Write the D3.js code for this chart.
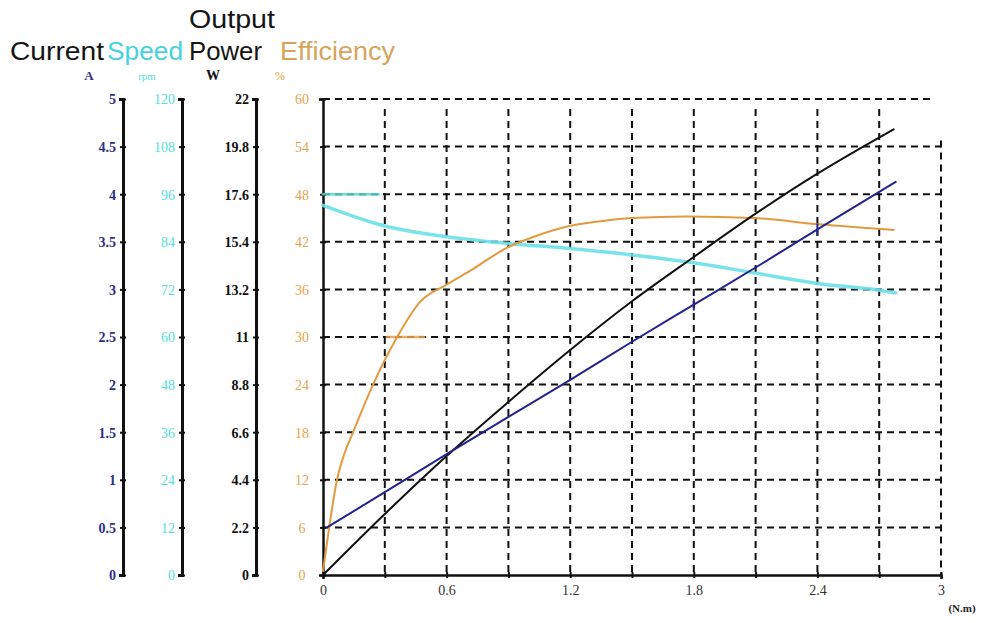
<!DOCTYPE html>
<html>
<head>
<meta charset="utf-8">
<script src="https://cdn.jsdelivr.net/npm/d3@7"></script>
<style>
  body { margin: 0; background: #fff; }
</style>
</head>
<body>
<div class="motor-chart"></div>
<script>
// torque axis (N.m)
const xTicks = [0, 0.3, 0.6, 0.9, 1.2, 1.5, 1.8, 2.1, 2.4, 2.7, 3];
const xLabels = ["0", "", "0.6", "", "1.2", "", "1.8", "", "2.4", "", "3"];

// left axes tick values
const currentTicks = [0, 0.5, 1, 1.5, 2, 2.5, 3, 3.5, 4, 4.5, 5];
const speedTicks = [0, 12, 24, 36, 48, 60, 72, 84, 96, 108, 120];
const powerTicks = [0, 2.2, 4.4, 6.6, 8.8, 11, 13.2, 15.4, 17.6, 19.8, 22];
const effTicks = [0, 6, 12, 18, 24, 30, 36, 42, 48, 54, 60];

// curves
const speedTorque = [0, 0.3, 0.6, 0.9, 1.2, 1.5, 1.8, 2.1, 2.4, 2.7, 2.78];
const speedRpm = [93.2, 88.0, 85.3, 83.6, 82.3, 80.7, 78.7, 76.1, 73.5, 71.8, 71.1];

const effTorque = [0, 0.03, 0.068, 0.1, 0.146, 0.243, 0.36, 0.47, 0.6, 0.73, 0.89, 1.02, 1.18, 1.35, 1.5, 1.77, 2.09, 2.41, 2.77];
const effPct = [0.5, 6, 12, 15.0, 18, 24, 30, 34.4, 36.6, 38.6, 41.2, 42.6, 43.9, 44.6, 45.0, 45.2, 45.0, 44.2, 43.5];

const powerTorque = [0, 0.3, 0.6, 0.9, 1.2, 1.5, 1.8, 2.1, 2.4, 2.77];
const powerW = [0, 2.82, 5.5, 8.0, 10.4, 12.65, 14.7, 16.7, 18.55, 20.6];

const currentTorque = [0.02, 0.3, 0.6, 0.9, 1.2, 1.5, 1.8, 2.1, 2.4, 2.78];
const currentA = [0.5, 0.87, 1.27, 1.66, 2.05, 2.45, 2.84, 3.23, 3.63, 4.13];

// short highlighted marks on gridlines
const speedMarkTorque = [0, 0.27];
const speedMarkRpm = [96, 96];
const effMarkTorque = [0.31, 0.49];
const effMarkPct = [30, 30];

const width = 985;
const height = 623;
const serif = "'Liberation Serif', 'Times New Roman', serif";
const sans = "'Liberation Sans', Arial, sans-serif";

const svg = d3.select('.motor-chart')
  .append('svg')
  .attr('width', width)
  .attr('height', height)

const x = d3.scaleLinear().domain([0, 3]).range([323, 941]);
const yTop = 99, yBot = 575;
const yCur = d3.scaleLinear().domain([0, 5]).range([yBot, yTop]);
const ySpd = d3.scaleLinear().domain([0, 120]).range([yBot, yTop]);
const yPow = d3.scaleLinear().domain([0, 22]).range([yBot, yTop]);
const yEff = d3.scaleLinear().domain([0, 60]).range([yBot, yTop]);

const navy = "#2e2e86", cyan = "#55dde0", orange = "#e8a24a", ink = "#111";

// header titles: text, x, baseline, colour, width
const titles = [
  ["Current", 10, 60, "#151515", 94],
  ["Speed", 107, 60, "#45d3dc", 76],
  ["Output", 189, 28, "#151515", 86],
  ["Power", 189, 60, "#151515", 73],
  ["Efficiency", 280, 60, "#d6a45c", 115]
];
svg.selectAll("text.title")
  .data(titles)
  .enter()
  .append("text")
  .attr("class", "title")
  .attr("x", d => d[1])
  .attr("y", d => d[2])
  .attr("fill", d => d[3])
  .attr("textLength", d => d[4])
  .attr("lengthAdjust", "spacingAndGlyphs")
  .style("font-family", sans)
  .style("font-size", "26px")
  .text(d => d[0]);

// units
const units = [["A", 89, navy, 13, "bold"], ["rpm", 147, cyan, 11, "normal"], ["W", 213, ink, 14, "bold"], ["%", 280, orange, 12, "normal"]];
svg.selectAll("text.unit")
  .data(units)
  .enter()
  .append("text")
  .attr("class", "unit")
  .attr("x", d => d[1])
  .attr("y", 80)
  .attr("text-anchor", "middle")
  .style("font-family", serif)
  .style("font-size", d => d[3] + "px")
  .style("font-weight", d => d[4])
  .attr("fill", d => d[2])
  .text(d => d[0]);

// grid (dashed)
const grid = svg.append("g")
  .attr("stroke", "#111")
  .attr("stroke-width", 2)
  .attr("stroke-dasharray", "7,5");

grid.selectAll("line.h")
  .data(effTicks.slice(1))
  .enter()
  .append("line")
  .attr("x1", x(0))
  .attr("x2", (d) => d === 60 ? x(2.97) : x(3))
  .attr("y1", d => yEff(d))
  .attr("y2", d => yEff(d));

grid.selectAll("line.v")
  .data(xTicks.slice(1))
  .enter()
  .append("line")
  .attr("x1", d => x(d))
  .attr("x2", d => x(d))
  .attr("y1", d => d === 3 ? yEff(54) - 6 : yEff(60) + 10)
  .attr("y2", yBot);

// helper to draw a left axis
function leftAxis(scale, ticks, xpos, color, bold) {
  const g = svg.append("g")
    .attr("transform", `translate(${xpos},0)`)
    .call(d3.axisLeft(scale).tickValues(ticks).tickSize(4).tickPadding(3).tickFormat(d => d));
  g.select(".domain").attr("stroke", "#111").attr("stroke-width", 3);
  g.selectAll(".tick line").attr("stroke", "#111").attr("stroke-width", 2).attr("x2", -3).attr("x1", 3);
  g.selectAll(".tick text")
    .attr("fill", color)
    .attr("dy", "0.35em")
    .style("font-size", "14px")
    .style("font-family", serif)
    .style("font-weight", bold ? "bold" : "normal");
  return g;
}

leftAxis(yCur, currentTicks, 123, navy, true);
leftAxis(ySpd, speedTicks, 182, cyan, false);
leftAxis(yPow, powerTicks, 256, ink, true);
const effAx = leftAxis(yEff, effTicks, 323, orange, false);
effAx.selectAll(".tick text").attr("x", -21).attr("text-anchor", "middle");
effAx.select(".domain").attr("stroke-width", 2.5);

// bottom axis
const xa = svg.append("g")
  .attr("transform", `translate(0,${yBot})`)
  .call(d3.axisBottom(x).tickValues(xTicks).tickSize(4).tickPadding(6).tickFormat((d, i) => xLabels[i]));
xa.select(".domain").attr("stroke", "#111").attr("stroke-width", 2.5);
xa.selectAll(".tick line").attr("stroke", "#111").attr("stroke-width", 2).attr("y1", -3).attr("y2", 3);
xa.selectAll(".tick text")
  .attr("fill", "#333")
  .style("font-size", "14px")
  .style("font-family", serif);

svg.append("text")
  .attr("x", 962)
  .attr("y", 612)
  .attr("text-anchor", "middle")
  .style("font-size", "11px")
  .style("font-weight", "bold")
  .style("font-family", serif)
  .attr("fill", "#222")
  .text("(N.m)");

// curves
function drawCurve(xs, ys, yScale, color, w, opacity) {
  const pts = xs.map((t, i) => [x(t), yScale(ys[i])]);
  svg.append("path")
    .attr("d", d3.line().curve(d3.curveMonotoneX)(pts))
    .attr("fill", "none")
    .attr("stroke", color)
    .attr("stroke-width", w)
    .attr("stroke-opacity", opacity || 1)
    .attr("stroke-linecap", "round");
}

drawCurve(speedMarkTorque, speedMarkRpm, ySpd, "#4fd6d6", 2.5, 0.85);
drawCurve(effMarkTorque, effMarkPct, yEff, orange, 2.5, 0.85);
drawCurve(speedTorque, speedRpm, ySpd, "#6be0e8", 3.5, 0.9);
drawCurve(effTorque, effPct, yEff, "#e29a40", 2);
drawCurve(powerTorque, powerW, yPow, "#111", 2);
drawCurve(currentTorque, currentA, yCur, "#23238c", 2);

// small cross markers on current line
svg.selectAll("path.mark")
  .data([1.8, 2.4])
  .enter()
  .append("path")
  .attr("d", d => {
    const i = currentTorque.indexOf(d);
    const cx = x(d), cy = yCur(currentA[i]);
    return `M${cx},${cy - 6}V${cy + 6}`;
  })
  .attr("stroke", "#23238c")
  .attr("stroke-width", 2);
</script>
</body>
</html>
